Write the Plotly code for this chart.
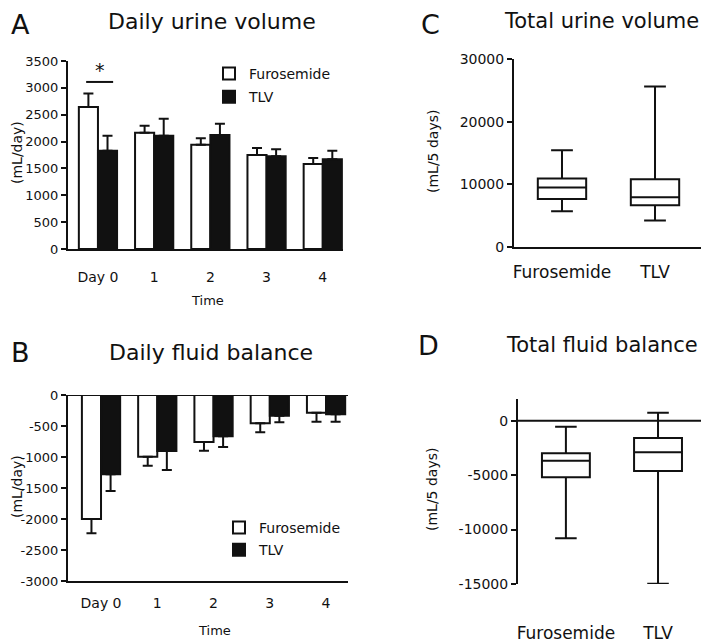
import plotly.graph_objects as go

# page body has an 8px margin, so the figure is drawn 8px in from the window corner
OFF = 8
W, H = 709 - OFF, 642 - OFF

# ---- data ----
days = ["Day 0", "1", "2", "3", "4"]
groups = ["Furosemide", "TLV"]

urine_furo = [2645, 2166, 1943, 1750, 1583]
urine_furo_err = [250, 130, 118, 131, 112]
urine_tlv = [1831, 2110, 2123, 1726, 1670]
urine_tlv_err = [279, 317, 211, 130, 161]

bal_furo = [-2000, -995, -758, -457, -285]
bal_furo_err = [231, 145, 140, 145, 145]
bal_tlv = [-1280, -903, -667, -333, -312]
bal_tlv_err = [268, 307, 172, 108, 118]

# box stats: [Furosemide, TLV]
tot_urine_min = [5700, 4210]
tot_urine_q1 = [7670, 6660]
tot_urine_med = [9480, 7940]
tot_urine_q3 = [10920, 10820]
tot_urine_max = [15450, 25630]

tot_bal_min = [-10800, -14970]
tot_bal_q1 = [-5200, -4620]
tot_bal_med = [-3680, -2890]
tot_bal_q3 = [-2980, -1580]
tot_bal_max = [-548, 730]

ticks_a = [0, 500, 1000, 1500, 2000, 2500, 3000, 3500]
ticks_b = [0, -500, -1000, -1500, -2000, -2500, -3000]
ticks_c = [0, 10000, 20000, 30000]
ticks_d = [0, -5000, -10000, -15000]

FONT = "DejaVu Sans"
BLACK = "#111111"


def px(x):
    return (x - OFF) / W


def py(y):
    return 1 - (y - OFF) / H


fig = go.Figure()

# ---- Panel A ----
fig.add_trace(go.Bar(
    x=days, y=urine_furo, name="Furosemide", legendgroup="f",
    marker=dict(color="white", line=dict(color=BLACK, width=2)),
    error_y=dict(type="data", symmetric=False, array=urine_furo_err, arrayminus=[0] * 5,
                 color=BLACK, thickness=2, width=5),
    xaxis="x", yaxis="y", legend="legend"))
fig.add_trace(go.Bar(
    x=days, y=urine_tlv, name="TLV", legendgroup="t",
    marker=dict(color=BLACK, line=dict(color=BLACK, width=2)),
    error_y=dict(type="data", symmetric=False, array=urine_tlv_err, arrayminus=[0] * 5,
                 color=BLACK, thickness=2, width=5),
    xaxis="x", yaxis="y", legend="legend"))

# ---- Panel B ----
fig.add_trace(go.Bar(
    x=days, y=bal_furo, name="Furosemide", legendgroup="f2",
    marker=dict(color="white", line=dict(color=BLACK, width=2)),
    error_y=dict(type="data", symmetric=False, array=[0] * 5, arrayminus=bal_furo_err,
                 color=BLACK, thickness=2, width=5),
    xaxis="x2", yaxis="y2", legend="legend2"))
fig.add_trace(go.Bar(
    x=days, y=bal_tlv, name="TLV", legendgroup="t2",
    marker=dict(color=BLACK, line=dict(color=BLACK, width=2)),
    error_y=dict(type="data", symmetric=False, array=[0] * 5, arrayminus=bal_tlv_err,
                 color=BLACK, thickness=2, width=5),
    xaxis="x2", yaxis="y2", legend="legend2"))

# ---- Panel C ----
fig.add_trace(go.Box(
    x=groups, q1=tot_urine_q1, median=tot_urine_med, q3=tot_urine_q3,
    lowerfence=tot_urine_min, upperfence=tot_urine_max,
    fillcolor="white", line=dict(color=BLACK, width=2), whiskerwidth=0.45, width=0.52,
    boxpoints=False, showlegend=False, xaxis="x3", yaxis="y3"))

# ---- Panel D ----
fig.add_trace(go.Box(
    x=groups, q1=tot_bal_q1, median=tot_bal_med, q3=tot_bal_q3,
    lowerfence=tot_bal_min, upperfence=tot_bal_max,
    fillcolor="white", line=dict(color=BLACK, width=2), whiskerwidth=0.45, width=0.52,
    boxpoints=False, showlegend=False, xaxis="x4", yaxis="y4"))

axis_common = dict(showgrid=False, zeroline=False, linecolor=BLACK, linewidth=2, automargin=False,
                   tickfont=dict(family=FONT, size=13, color=BLACK))
yax = dict(axis_common, showline=True, ticks="outside", ticklen=5, tickwidth=2, tickcolor=BLACK)
mid = dict(family=FONT, size=14, color=BLACK)
big = dict(family=FONT, size=17, color=BLACK)

fig.update_layout(
    width=W, height=H, margin=dict(l=0, r=0, t=0, b=0, autoexpand=False),
    paper_bgcolor="white", plot_bgcolor="white",
    barmode="group", bargap=0.32, bargroupgap=0,
    font=dict(family=FONT, color=BLACK),
    xaxis=dict(axis_common, domain=[px(68), px(343)], anchor="y", type="category",
               range=[-0.533, 4.36], showline=True, ticks="", ticklabelstandoff=14, tickfont=mid),
    yaxis=dict(yax, domain=[py(249), py(61)], anchor="x", range=[0, 3500],
               tickvals=ticks_a, ticktext=[str(v) for v in ticks_a]),
    xaxis2=dict(axis_common, domain=[px(68), px(348)], anchor="y2", type="category",
                range=[-0.587, 4.39], showline=True, ticks="", ticklabelstandoff=8, tickfont=mid),
    yaxis2=dict(yax, domain=[py(581), py(395)], anchor="x2", range=[-3000, 0],
                tickvals=ticks_b, ticktext=[str(v) for v in ticks_b]),
    xaxis3=dict(axis_common, domain=[px(514), px(703)], anchor="y3", type="category",
                range=[-0.516, 1.516], showline=True, ticks="", ticklabelstandoff=9,
                tickfont=big),
    yaxis3=dict(yax, domain=[py(247), py(59)], anchor="x3", range=[0, 30000],
                tickvals=ticks_c, ticktext=[str(v) for v in ticks_c], tickfont=mid),
    xaxis4=dict(axis_common, domain=[px(518), px(705)], anchor="y4", type="category",
                range=[-0.52, 1.51], showline=False, ticks="", ticklabelstandoff=37,
                tickfont=big),
    yaxis4=dict(yax, domain=[py(584), py(399)], anchor="x4", range=[-15000, 2000],
                tickvals=ticks_d, ticktext=[str(v) for v in ticks_d], tickfont=mid),
    legend=dict(x=px(209), y=py(58), xanchor="left", yanchor="top", bgcolor="rgba(0,0,0,0)",
                font=dict(family=FONT, size=14, color=BLACK), tracegroupgap=2),
    legend2=dict(x=px(219), y=py(512), xanchor="left", yanchor="top", bgcolor="rgba(0,0,0,0)",
                 font=dict(family=FONT, size=14, color=BLACK), tracegroupgap=1),
)

# zero lines for B and D
fig.add_shape(type="line", xref="x2 domain", yref="y2", x0=0, x1=1, y0=0, y1=0,
              line=dict(color=BLACK, width=2))
fig.add_shape(type="line", xref="x4 domain", yref="y4", x0=0, x1=1, y0=0, y1=0,
              line=dict(color=BLACK, width=2))

# significance bar
fig.add_shape(type="line", xref="x", yref="y", x0=-0.21, x1=0.27, y0=3110, y1=3110,
              line=dict(color=BLACK, width=2))
fig.add_annotation(x=0.03, y=3330, xref="x", yref="y", text="*", showarrow=False,
                   font=dict(family=FONT, size=19, color=BLACK))


def ann(text, x, y, size, angle=0):
    fig.add_annotation(x=px(x), y=py(y), xref="paper", yref="paper", text=text,
                       showarrow=False, textangle=angle, xanchor="center", yanchor="middle",
                       font=dict(family=FONT, size=size, color=BLACK))


def ann_top(text, x, size):
    fig.add_annotation(x=px(x), y=1, xref="paper", yref="paper", text=text,
                       showarrow=False, xanchor="center", yanchor="top", borderpad=0,
                       font=dict(family=FONT, size=size, color=BLACK))


# panel letters and titles (top row sits against the top edge)
ann_top("A", 20, 27)
ann_top("C", 430, 27)
ann_top("Daily urine volume", 212, 22)
ann_top("Total urine volume", 601, 21)
ann("B", 20, 352, 27)
ann("D", 428, 345, 27)
ann("Daily fluid balance", 211, 352, 22)
ann("Total fluid balance", 602, 345, 21)
# axis titles
ann("(mL/day)", 17, 153, 14, -90)
ann("(mL/day)", 17, 487, 14, -90)
ann("(mL/5 days)", 433, 152, 14, -90)
ann("(mL/5 days)", 432, 490, 14, -90)
ann("Time", 207, 300, 13)
ann("Time", 214, 630, 13)

fig.write_html("out.html")
